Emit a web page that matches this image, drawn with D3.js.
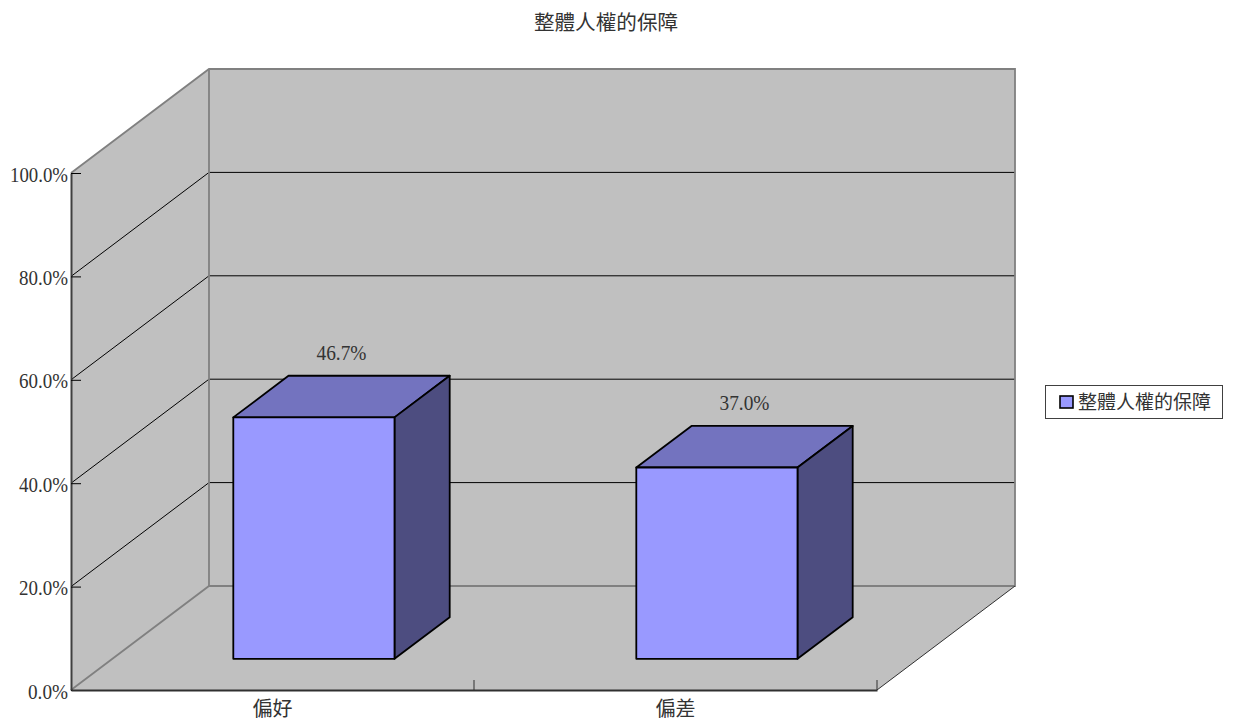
<!DOCTYPE html>
<html><head><meta charset="utf-8">
<script src="https://cdn.jsdelivr.net/npm/d3@7"></script>
<style>
html,body{margin:0;padding:0;background:#fff}
svg{display:block}
text{font-family:"Liberation Serif","Noto Sans CJK TC",serif;fill:#333}
</style></head><body>
<svg id="c" width="1235" height="723"></svg>
<script>
const titleText = "整體人權的保障";
const categories = ["偏好", "偏差"];
const values = [46.7, 37.0];
const yTicks = [0, 20, 40, 60, 80, 100];
const seriesName = "整體人權的保障";

const svg = d3.select("#c");
const x = d3.scaleBand().domain(categories).range([71, 877]).paddingInner(0.6).paddingOuter(0.3);
const y = d3.scaleLinear().domain([0, 100]).range([690, 173]);
const depth = { dx: 138, dy: -104 };
const P = (px, py, d) => [px + depth.dx * d, py + depth.dy * d];
const line = d3.line();
const poly = pts => line(pts) + "Z";
const wall = "#c0c0c0", edge = "#808080";
const x0 = x.range()[0], x1 = x.range()[1], y0 = y(0), y1 = y(100);
// latin numerals: tall, condensed look of the reference font
const pctWidth = s => (s.length - 2) * 9 + 5 + 17;

const g = svg.append("g");
g.append("path").attr("d", poly([P(x0,y0,0),P(x0,y1,0),P(x0,y1,1),P(x0,y0,1)])).attr("fill", wall);
g.append("path").attr("d", poly([P(x0,y0,1),P(x0,y1,1),P(x1,y1,1),P(x1,y0,1)])).attr("fill", wall);
g.append("path").attr("d", poly([P(x0,y0,0),P(x1,y0,0),P(x1,y0,1),P(x0,y0,1)])).attr("fill", wall);

g.selectAll("path.grid").data(yTicks.filter(t => t > 0 && t < 100)).join("path").attr("class", "grid")
  .attr("d", t => line([P(x0,y(t),0),P(x0,y(t),1),P(x1,y(t),1)]))
  .attr("fill", "none").attr("stroke", "#000").attr("stroke-width", 1);

[
  [P(x0,y1,0),P(x0,y1,1),P(x1,y1,1),P(x1,y0,1),P(x0,y0,1),P(x0,y0,0)],
  [P(x0,y1,1),P(x0,y0,1)]
].forEach(p => g.append("path").attr("d", line(p)).attr("fill","none").attr("stroke",edge).attr("stroke-width",1.8));
g.append("path").attr("d", line([P(x1,y0,0),P(x1,y0,1)])).attr("fill","none").attr("stroke","#303030").attr("stroke-width",1);

const dA = 0.3, dB = 0.7;
const bars = svg.append("g").selectAll("g").data(categories.map((c,i)=>({c,v:values[i]}))).join("g");
const face = (sel, fill, fn) => sel.append("path").attr("d", fn).attr("fill", fill)
  .attr("stroke", "#000").attr("stroke-width", 1.8).attr("stroke-linejoin","round");
const L = d => x(d.c), R = d => x(d.c) + x.bandwidth();
face(bars, "#7373bf", d => poly([P(L(d),y(d.v),dA),P(L(d),y(d.v),dB),P(R(d),y(d.v),dB),P(R(d),y(d.v),dA)]));
face(bars, "#4d4d80", d => poly([P(R(d),y(0),dA),P(R(d),y(d.v),dA),P(R(d),y(d.v),dB),P(R(d),y(0),dB)]));
face(bars, "#9999ff", d => poly([P(L(d),y(0),dA),P(L(d),y(d.v),dA),P(R(d),y(d.v),dA),P(R(d),y(0),dA)]));

bars.append("text").attr("text-anchor","middle").attr("font-size",22)
  .attr("x", d => x(d.c) + x.bandwidth()/2 + depth.dx*0.5)
  .attr("y", d => y(d.v) + depth.dy*dB - 16)
  .attr("textLength", 50).attr("lengthAdjust","spacingAndGlyphs")
  .text(d => d.v.toFixed(1) + "%");

const axisY = d3.axisLeft(y).tickValues(yTicks).tickSizeInner(-10).tickSizeOuter(0).tickPadding(3)
  .tickFormat(d => d.toFixed(1) + "%");
const gy = svg.append("g").attr("transform", `translate(${x0},0)`).call(axisY);
gy.attr("font-family",null).attr("font-size",null);
gy.select(".domain").attr("stroke","#404040").attr("stroke-width",2);
gy.selectAll(".tick line").attr("stroke","#000");
gy.selectAll(".tick text").attr("font-size",22).attr("fill",null).attr("dy","0.37em")
  .attr("textLength", (d,i,n) => pctWidth(n[i].textContent)).attr("lengthAdjust","spacingAndGlyphs");

const axisX = d3.axisBottom(x).tickSize(0).tickPadding(12);
const gx = svg.append("g").attr("transform", `translate(0,${y0})`).call(axisX);
gx.attr("font-family",null).attr("font-size",null);
gx.select(".domain").attr("stroke","#303030").attr("stroke-width",2);
gx.selectAll(".tick text").attr("font-size",20).attr("fill",null);
gx.selectAll("line.bt").data(categories.map((c,i)=>x0 + (i+1)*(x1-x0)/categories.length)).join("line")
  .attr("class","bt").attr("x1",d=>d).attr("x2",d=>d).attr("y1",0).attr("y2",-10).attr("stroke","#303030");

svg.append("text").attr("x",606).attr("y",30).attr("text-anchor","middle").attr("font-size",20.6).text(titleText);

const lg = svg.append("g");
lg.append("rect").attr("x",1045.5).attr("y",385.5).attr("width",177).attr("height",33)
  .attr("fill","#fff").attr("stroke","#404040").attr("stroke-width",1);
lg.append("rect").attr("x",1060).attr("y",396).attr("width",13).attr("height",12)
  .attr("fill","#9999ff").attr("stroke","#000").attr("stroke-width",1.6);
lg.append("text").attr("x",1078).attr("y",409).attr("font-size",19).text(seriesName);
</script>
</body></html>
